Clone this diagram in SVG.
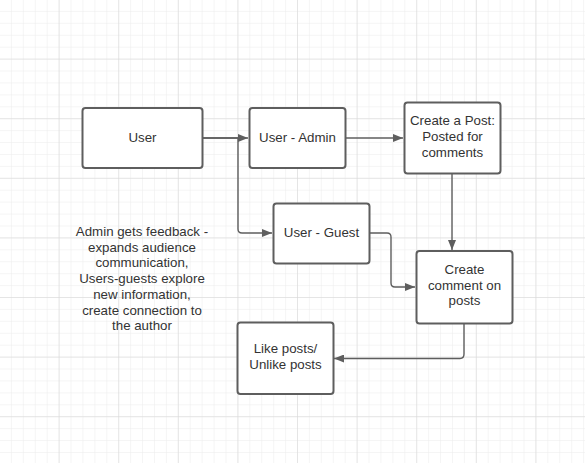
<svg xmlns="http://www.w3.org/2000/svg" width="585" height="463" viewBox="0 0 585 463">
<style>
.node rect{fill:#fff;stroke:#5e5e5e;stroke-width:2}
text{font-family:"Liberation Sans",Arial,sans-serif;font-size:13.3px;fill:#333;text-anchor:middle}
.conn path{fill:none;stroke:#5e5e5e;stroke-width:1.4}
</style>
<defs>
<pattern id="minor" width="11.92" height="11.92" patternUnits="userSpaceOnUse">
<path d="M11.92 0V11.92M0 11.92H11.92" fill="none" stroke="#ebebeb" stroke-width="1"/>
</pattern>
<pattern id="major" width="59.6" height="59.6" patternUnits="userSpaceOnUse">
<path d="M59.6 0V59.6M0 59.6H59.6" fill="none" stroke="#d6d6d6" stroke-width="1"/>
</pattern>
<marker id="arr" markerWidth="11" markerHeight="8" refX="10" refY="4" orient="auto" markerUnits="userSpaceOnUse">
<path d="M0 0L10 4L0 8Z" fill="#5e5e5e"/>
</marker>
</defs>
<rect width="585" height="463" fill="#fff"/>
<rect x="-0.5" y="-0.5" width="586" height="464" fill="url(#minor)"/>
<rect x="-0.5" y="-0.5" width="586" height="464" fill="url(#major)"/>
<g class="conn">
<path d="M202 138H248" marker-end="url(#arr)"/>
<path d="M202 138H238V229Q238 233 242 233H272" marker-end="url(#arr)"/>
<path d="M346 138H403" marker-end="url(#arr)"/>
<path d="M452 174V250" marker-end="url(#arr)"/>
<path d="M369 233H387Q391 233 391 237V283Q391 287 395 287H415" marker-end="url(#arr)"/>
<path d="M464 324V354Q464 358.5 460 358.5H334" marker-end="url(#arr)"/>
</g>
<g id="user" class="node"><rect x="82.5" y="108" width="120" height="60" rx="3"/><text x="142.5" y="142">User</text></g>
<g id="admin" class="node"><rect x="249.5" y="108" width="96" height="60" rx="3"/><text x="297.5" y="142">User - Admin</text></g>
<g id="guest" class="node"><rect x="273.5" y="203.5" width="96" height="60" rx="3"/><text x="321.5" y="237">User - Guest</text></g>
<g id="post" class="node"><rect x="404.5" y="102.5" width="96" height="71" rx="3"/><text x="452.5" y="125">Create a Post:</text><text x="452.5" y="141">Posted for</text><text x="452.5" y="156.5">comments</text></g>
<g id="comment" class="node"><rect x="416.5" y="251" width="96" height="72.5" rx="3"/><text x="464.5" y="274">Create</text><text x="464.5" y="289.5">comment on</text><text x="464.5" y="305">posts</text></g>
<g id="like" class="node"><rect x="237.5" y="322.5" width="96" height="71.5" rx="3"/><text x="285.5" y="353">Like posts/</text><text x="285.5" y="368.6">Unlike posts</text></g>
<g id="note"><text x="142" y="236">Admin gets feedback -</text><text x="142" y="251.7">expands audience</text><text x="142" y="267.4">communication,</text><text x="142" y="283.1">Users-guests explore</text><text x="142" y="298.8">new information,</text><text x="142" y="314.5">create connection to</text><text x="142" y="330.2">the author</text></g>
</svg>
